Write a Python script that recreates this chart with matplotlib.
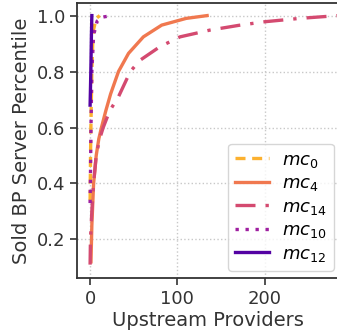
import matplotlib
matplotlib.use("Agg")
import matplotlib.pyplot as plt

# (CDF-like curves)
mc0_x = [0, 0.5, 1, 2, 3, 4, 7, 11]
mc0_y = [0.34, 0.5, 0.62, 0.8, 0.9, 0.95, 0.99, 1.0]

mc4_x = [1, 2, 4, 7, 10, 13, 18, 23.5, 32.5, 44, 61, 82, 110, 134]
mc4_y = [0.12, 0.25, 0.4, 0.5, 0.56, 0.6, 0.66, 0.72, 0.8, 0.865, 0.924, 0.966, 0.99, 1.0]

mc14_x = [0, 0.4, 2, 4, 7, 11, 15, 22.5, 32.5, 46, 57, 80, 103, 137, 170, 200, 240, 284]
mc14_y = [0.11, 0.2, 0.3, 0.4, 0.5, 0.56, 0.6, 0.66, 0.71, 0.8, 0.84, 0.889, 0.924,
          0.948, 0.965, 0.978, 0.99, 1.0]

mc10_x = [0, 0.5, 1, 2, 4, 8, 15, 25]
mc10_y = [0.33, 0.45, 0.6, 0.8, 0.93, 0.98, 0.995, 1.0]

mc12_x = [0, 0.5, 1, 1.5, 2]
mc12_y = [0.68, 0.75, 0.83, 0.93, 1.0]

labels = ["$mc_{0}$", "$mc_{4}$", "$mc_{14}$", "$mc_{10}$", "$mc_{12}$"]
colors = ["#fcb12f", "#f0784f", "#d44a70", "#9f1fa0", "#5402a3"]

plt.rcParams["font.family"] = "DejaVu Sans"
plt.rcParams["font.size"] = 14

fig = plt.figure(figsize=(3.37, 3.33), dpi=100)
ax = fig.add_axes([77 / 337, 0.165, 262 / 337, 0.826])

lw = 2.4
ax.plot(mc0_x, mc0_y, color=colors[0], lw=lw, ls=(0, (3, 2)), label=labels[0])
ax.plot(mc4_x, mc4_y, color=colors[1], lw=lw, ls="-", label=labels[1])
ax.plot(mc14_x, mc14_y, color=colors[2], lw=lw, ls=(0, (6, 3, 1, 3)), label=labels[2])
ax.plot(mc10_x, mc10_y, color=colors[3], lw=lw, ls=(0, (1, 2)), label=labels[3])
ax.plot(mc12_x, mc12_y, color=colors[4], lw=lw, ls="-", label=labels[4])

ax.set_xlim(-15, 285)
ax.set_ylim(0.062, 1.045)
ax.set_xticks([0, 100, 200])
ax.set_yticks([0.2, 0.4, 0.6, 0.8, 1.0])

ax.grid(True, ls=":", color="#c8c8c8", lw=1)
for s in ax.spines.values():
    s.set_color("#333333")
    s.set_linewidth(1.3)
ax.tick_params(direction="out", length=5, width=1.2, color="#333333",
               labelcolor="#333333", labelsize=13)

ax.set_xlabel("Upstream Providers", fontsize=14, color="#333333", labelpad=2)
ax.set_ylabel("Sold BP Server Percentile", fontsize=14, color="#333333", labelpad=4)

leg = ax.legend(loc="lower right", bbox_to_anchor=(334 / 337, 62 / 333),
                bbox_transform=fig.transFigure, fontsize=13,
                handlelength=1.9, handletextpad=0.7, labelspacing=0.25,
                borderpad=0.4, borderaxespad=0, frameon=True)
leg.get_frame().set_edgecolor("#cccccc")

fig.savefig("out.png", dpi=100)
